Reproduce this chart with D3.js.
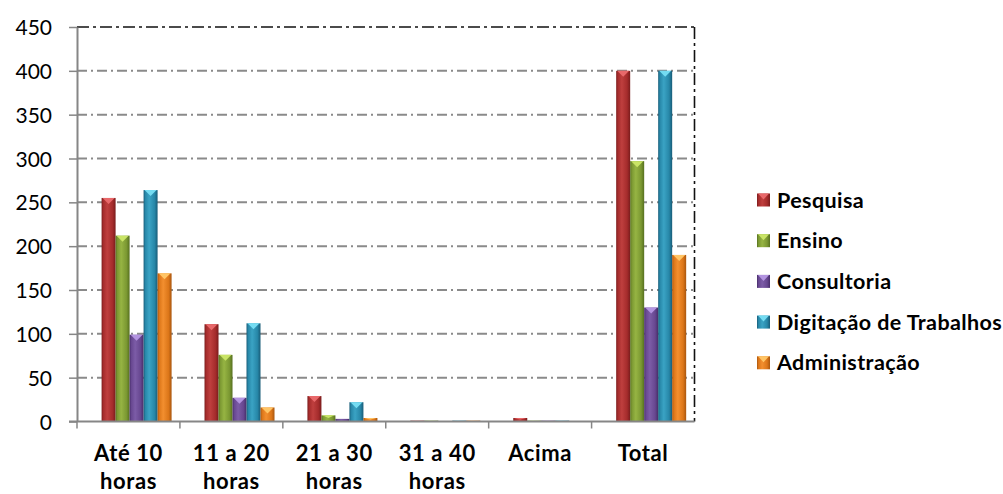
<!DOCTYPE html>
<html>
<head>
<meta charset="utf-8">
<script src="https://cdn.jsdelivr.net/npm/d3@7"></script>
<style>
  html, body { margin: 0; padding: 0; background: #ffffff; }
  svg { display: block; }
  .tick-label { font-family: Lato, "Open Sans", sans-serif; font-size: 21px; fill: #000; }
  .cat-label { font-family: Lato, "Open Sans", sans-serif; font-size: 22px; font-weight: 700; letter-spacing: 0.6px; fill: #000; }
  .legend-label { font-family: Lato, "Open Sans", sans-serif; font-size: 21.5px; font-weight: 700; letter-spacing: 0.4px; fill: #000; }
</style>
</head>
<body>
<svg id="chart" width="1003" height="494"></svg>
<script>
// Hours-per-week bands and activity counts
const categories = ["Até 10 horas", "11 a 20 horas", "21 a 30 horas", "31 a 40 horas", "Acima", "Total"];
const seriesNames = ["Pesquisa", "Ensino", "Consultoria", "Digitação de Trabalhos", "Administração"];
const pesquisa      = [255, 111, 29, 1, 4, 400];
const ensino        = [212, 76, 7, 1, 1, 297];
const consultoria   = [99, 27, 3, 0, 1, 130];
const digitacao     = [264, 112, 22, 1, 1, 400];
const administracao = [169, 16, 4, 1, 0, 190];
const yTickValues = [0, 50, 100, 150, 200, 250, 300, 350, 400, 450];

const seriesValues = [pesquisa, ensino, consultoria, digitacao, administracao];

// Shading for each series: [edge, body, highlight, bevel cap]
const palette = [
  ["#7a1c1c", "#a52c2c", "#bf3f3e", "#e8686a"],
  ["#56701f", "#7b9832", "#96b443", "#c9e466"],
  ["#472d69", "#674790", "#7c5ca7", "#b394e0"],
  ["#185c78", "#2787a8", "#3aa3c4", "#74dcf2"],
  ["#a9560e", "#dc7619", "#f38f2f", "#ffc565"]
];

const svg = d3.select("#chart");
const plot = { left: 77, right: 694.5, top: 27, bottom: 421.5 };

const x = d3.scaleBand().domain(categories).range([plot.left, plot.right]).padding(0);
const bw = x.bandwidth();
const xInner = d3.scaleBand().domain(seriesNames)
  .range([bw * 0.239, bw * 0.919]).padding(0);
const y = d3.scaleLinear().domain([0, 450]).range([plot.bottom, plot.top]);

// Gradients for the bevelled columns
const defs = svg.append("defs");
palette.forEach((c, i) => {
  const g = defs.append("linearGradient").attr("id", "grad" + i)
    .attr("x1", "0%").attr("x2", "100%").attr("y1", "0%").attr("y2", "0%");
  g.append("stop").attr("offset", "0%").attr("stop-color", c[0]);
  g.append("stop").attr("offset", "12%").attr("stop-color", c[1]);
  g.append("stop").attr("offset", "40%").attr("stop-color", c[2]);
  g.append("stop").attr("offset", "78%").attr("stop-color", c[1]);
  g.append("stop").attr("offset", "100%").attr("stop-color", c[0]);
});

// Horizontal dash-dot gridlines
svg.append("g").selectAll("line")
  .data(yTickValues.filter(v => v > 0 && v < 450))
  .join("line")
  .attr("x1", plot.left).attr("x2", plot.right)
  .attr("y1", d => y(d)).attr("y2", d => y(d))
  .attr("stroke", "#8a8a8a").attr("stroke-width", 2)
  .attr("stroke-dasharray", "10,4,2,4");

// Plot frame: top and right edges, black dash-dot
svg.append("line")
  .attr("x1", plot.left).attr("x2", plot.right)
  .attr("y1", y(450)).attr("y2", y(450))
  .attr("stroke", "#111").attr("stroke-width", 1.6)
  .attr("stroke-dasharray", "12,4,3,4");
svg.append("line")
  .attr("x1", plot.right).attr("x2", plot.right)
  .attr("y1", y(450)).attr("y2", plot.bottom)
  .attr("stroke", "#111").attr("stroke-width", 1.6)
  .attr("stroke-dasharray", "12,4,3,4");

// Columns
const groups = svg.append("g").selectAll("g")
  .data(categories)
  .join("g")
  .attr("transform", d => `translate(${x(d)},0)`);

groups.each(function (cat, ci) {
  const g = d3.select(this);
  seriesNames.forEach((s, si) => {
    const v = seriesValues[si][ci];
    if (v <= 0) return;
    const x0 = xInner(s), w = xInner.bandwidth();
    const top = y(v), h = y(0) - y(v);
    g.append("rect")
      .attr("x", x0).attr("y", top)
      .attr("width", w).attr("height", Math.max(h, 1))
      .attr("fill", `url(#grad${si})`);
    if (h >= 3) {
      const th = Math.min(6, h * 0.45);
      g.append("path")
        .attr("d", `M${x0 + 1},${top}L${x0 + w - 1},${top}L${x0 + w / 2},${top + th}Z`)
        .attr("fill", palette[si][3]);
    }
  });
});

// Y axis
const yAxis = d3.axisLeft(y).tickValues(yTickValues).tickSize(8).tickSizeOuter(0).tickPadding(17);
const yG = svg.append("g").attr("transform", `translate(${plot.left},0)`).call(yAxis);
yG.select(".domain").attr("stroke", "#868686").attr("stroke-width", 2);
yG.selectAll(".tick line").attr("stroke", "#868686").attr("stroke-width", 1.5);
yG.selectAll(".tick text").attr("class", "tick-label").attr("font-size", null).attr("font-family", null)
  .attr("dy", "0.36em");

// X axis line and category separators
const xG = svg.append("g");
xG.append("line")
  .attr("x1", plot.left - 8).attr("x2", plot.right)
  .attr("y1", plot.bottom).attr("y2", plot.bottom)
  .attr("stroke", "#868686").attr("stroke-width", 2);
xG.selectAll(".sep")
  .data(categories)
  .join("line")
  .attr("class", "sep")
  .attr("x1", d => x(d)).attr("x2", d => x(d))
  .attr("y1", plot.bottom).attr("y2", plot.bottom + 7)
  .attr("stroke", "#868686").attr("stroke-width", 1.5);

// Category labels, wrapped to the band width
const maxW = bw * 0.8;
xG.selectAll(".cat-label")
  .data(categories)
  .join("text")
  .attr("class", "cat-label")
  .attr("text-anchor", "middle")
  .attr("x", d => x(d) + bw / 2)
  .attr("y", 461)
  .each(function (d) {
    const t = d3.select(this);
    const words = d.split(" ");
    const lines = [];
    let cur = [];
    words.forEach(wd => {
      const test = cur.concat(wd).join(" ");
      t.text(test);
      if (this.getComputedTextLength() > maxW && cur.length) {
        lines.push(cur.join(" "));
        cur = [wd];
      } else {
        cur.push(wd);
      }
    });
    lines.push(cur.join(" "));
    t.text(null);
    lines.forEach((ln, i) => {
      t.append("tspan")
        .attr("x", x(d) + bw / 2)
        .attr("dy", i === 0 ? 0 : 28)
        .text(ln);
    });
  });

// Legend
const legend = svg.append("g").attr("transform", "translate(757,193.5)");
const items = legend.selectAll("g")
  .data(seriesNames)
  .join("g")
  .attr("transform", (d, i) => `translate(0,${i * 40.7})`);
items.append("rect")
  .attr("width", 13).attr("height", 13)
  .attr("fill", (d, i) => `url(#grad${i})`);
items.append("path")
  .attr("d", "M1,0L12,0L6.5,6Z")
  .attr("fill", (d, i) => palette[i][3]);
items.append("text")
  .attr("class", "legend-label")
  .attr("x", 20).attr("y", 14)
  .text(d => d);
</script>
</body>
</html>
